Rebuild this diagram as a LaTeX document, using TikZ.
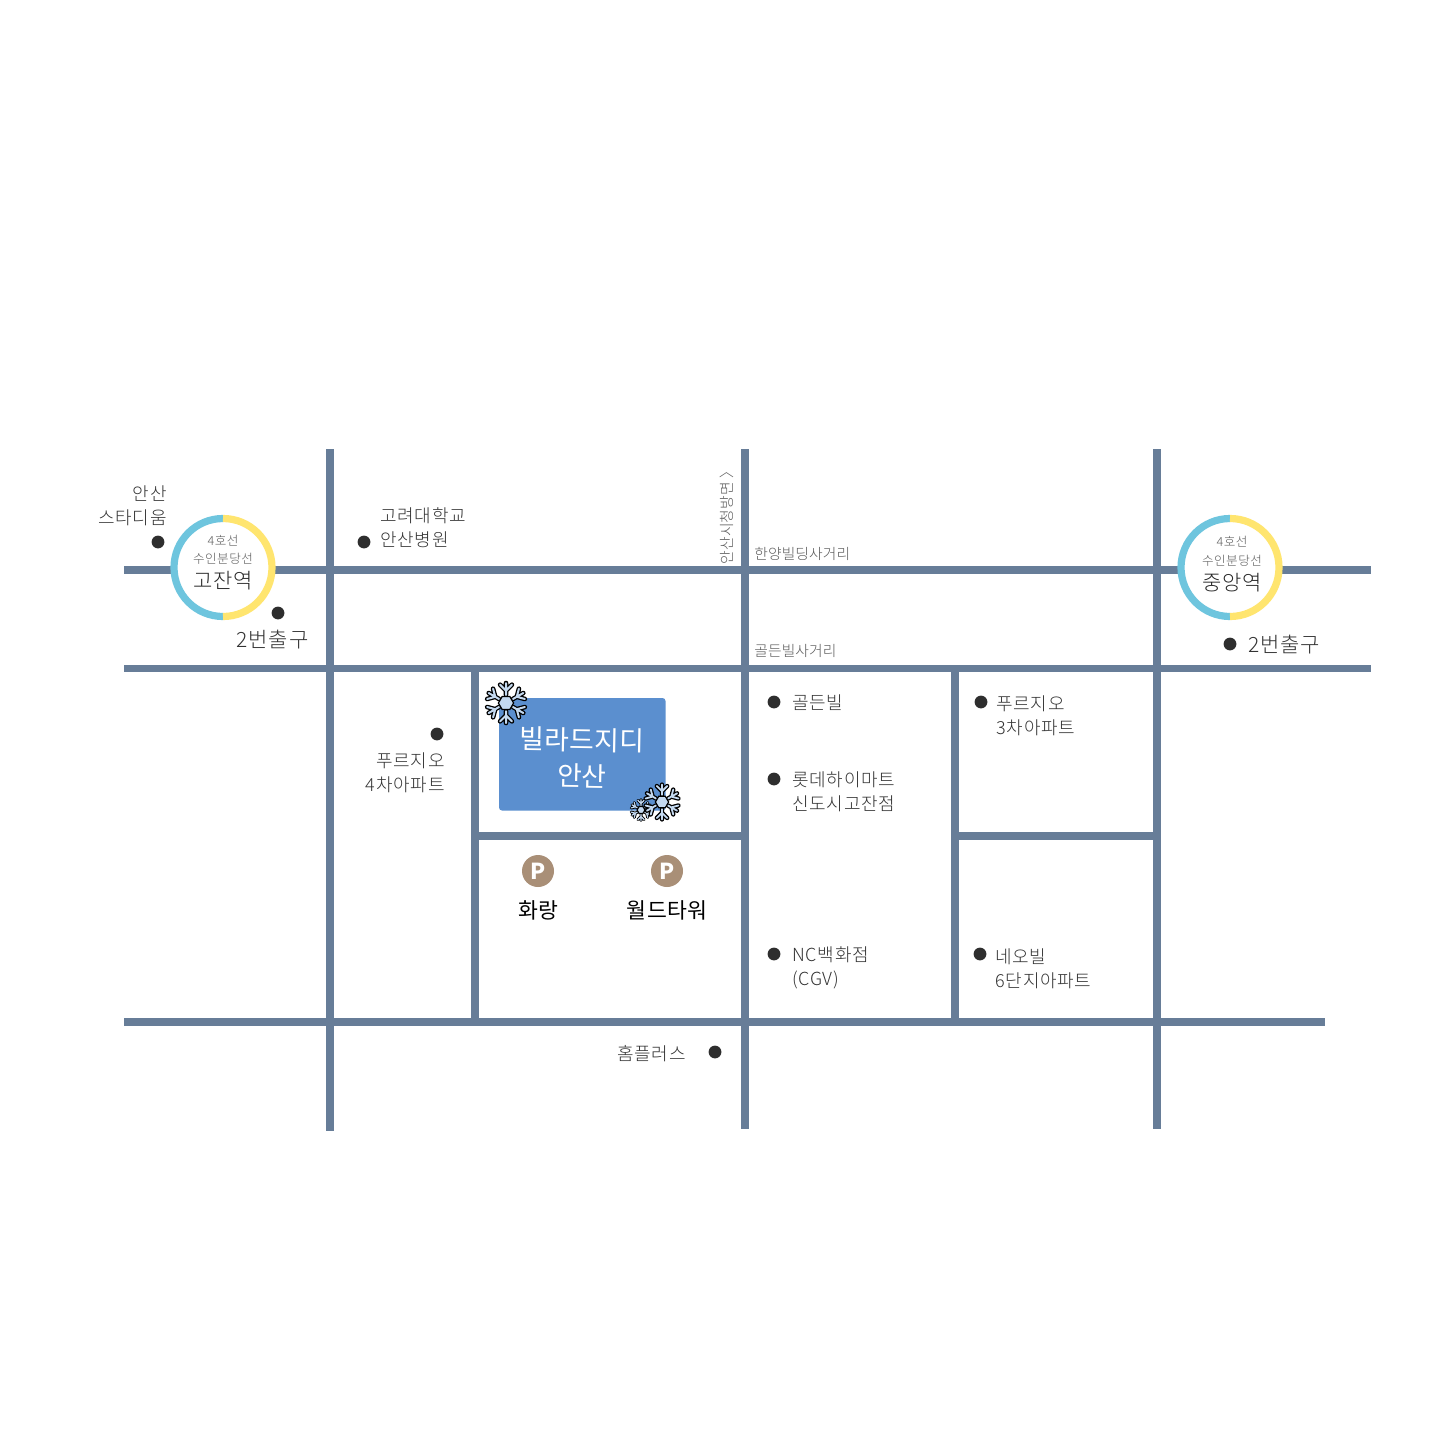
\documentclass[tikz,border=0pt]{standalone}
\usepackage{fontspec}
\newfontfamily\krlight{Noto Sans CJK KR Light}[LetterSpace=4]
\newfontfamily\krsign{Noto Sans CJK KR Light}[LetterSpace=0.5]
\newfontfamily\krreg{Noto Sans CJK KR}[LetterSpace=1]
\definecolor{roadc}{HTML}{677D98}
\definecolor{ringblue}{HTML}{6EC5DE}
\definecolor{ringyellow}{HTML}{FFE56F}
\definecolor{boxblue}{HTML}{5B8FCF}
\definecolor{parkc}{HTML}{A98F77}
\definecolor{dotc}{HTML}{2E2E2E}
\definecolor{inkc}{HTML}{333333}
\definecolor{greyc}{HTML}{5A5A5A}
\definecolor{iceblue}{HTML}{C4D9F0}
\tikzset{
  road/.style={draw=roadc,line width=3.6pt},
  place/.style={circle,fill=dotc,minimum size=6.4pt,inner sep=0pt},
  lbl/.style={font=\krlight\fontsize{9}{9}\selectfont,text=inkc,inner sep=0pt,text height=7pt,text depth=0pt},
  sign/.style={font=\krsign\fontsize{7.4}{8}\selectfont,text=greyc,inner sep=0pt,text height=6pt,text depth=0pt},
  tiny/.style={font=\krlight\fontsize{6.3}{7}\selectfont,text=greyc,inner sep=0pt,text height=5pt,text depth=0pt},
  station/.style={font=\krlight\fontsize{10.5}{11}\selectfont,text=black!85,inner sep=0pt,text height=8pt,text depth=0pt},
  exitlbl/.style={font=\krlight\fontsize{10.5}{11}\selectfont,text=inkc,inner sep=0pt,text height=8pt,text depth=0pt},
  park/.style={circle,fill=parkc,minimum size=16pt,inner sep=0pt,text=white,font=\krreg\bfseries\fontsize{11}{11}\selectfont},
  parklbl/.style={font=\krreg\fontsize{10.8}{11}\selectfont,text=black,inner sep=0pt,text height=8pt,text depth=0pt},
  brand/.style={font=\krreg\fontsize{13.4}{14}\selectfont,text=white,inner sep=0pt,rotate=-1},
}
\newcommand{\flakearm}[1]{%
  \foreach \a in {30,90,...,330}{
    \begin{scope}[rotate=\a]
      \draw[line cap=round,#1] (.4,0) -- (1,0) (.62,0) -- ++(45:.42) (.62,0) -- ++(-45:.42);
    \end{scope}}}
\newcommand{\snowflake}[5]{%
  \begin{scope}[shift={(#1,#2)},x=#3*1pt,y=#3*1pt]
    \flakearm{draw=black,line width=#4}
    \flakearm{draw=iceblue,line width=#5}
    \draw[black,fill=iceblue,line width=.6pt] (0:.38) -- (60:.38) -- (120:.38) -- (180:.38) -- (240:.38) -- (300:.38) -- cycle;
  \end{scope}}
\newcommand{\ring}[2]{%
  \fill[white] (#1,#2) circle (52);
  \draw[ringblue,line width=3.6pt] (#1,#2-49) arc[start angle=-90,end angle=-270,radius=49];
  \draw[ringyellow,line width=3.6pt] (#1,#2-49) arc[start angle=-90,end angle=90,radius=49];}
\begin{document}
\begin{tikzpicture}[x=0.5pt,y=-0.5pt]
\useasboundingbox (0,0) rectangle (1440,1440);
\fill[white] (0,0) rectangle (1440,1440);
% roads
\draw[road] (124,570) -- (1371,570);
\draw[road] (124,668.5) -- (1371,668.5);
\draw[road] (124,1022) -- (1325,1022);
\draw[road] (475,836) -- (745,836);
\draw[road] (955,836) -- (1157,836);
\draw[road] (330,449) -- (330,1131);
\draw[road] (745,449) -- (745,1129);
\draw[road] (1157,449) -- (1157,1129);
\draw[road] (475,668) -- (475,1022);
\draw[road] (955,668) -- (955,1022);
% stations
\ring{223}{567.5}
\ring{1230}{567.5}
\node[tiny] (g1) at (223,540) {4호선};
\node[tiny] (g2) at (223,558) {수인분당선};
\node[station] (g3) at (223,580.5) {고잔역};
\node[tiny] (j1) at (1232,541) {4호선};
\node[tiny] (j2) at (1232,560) {수인분당선};
\node[station] (j3) at (1232,582.5) {중앙역};
% dots
\node[place] (d1) at (158,542) {};
\node[place] (d2) at (278,613) {};
\node[place] (d3) at (364,542) {};
\node[place] (d4) at (437,734) {};
\node[place] (d5) at (774,702) {};
\node[place] (d6) at (774,779) {};
\node[place] (d7) at (774,954) {};
\node[place] (d8) at (981,702) {};
\node[place] (d9) at (980,954) {};
\node[place] (d10) at (715,1052) {};
\node[place] (d11) at (1230,644) {};
% labels
\node[lbl,anchor=east] (t1) at (167,493.5) {안산};
\node[lbl,anchor=east] (t2) at (167,517.5) {스타디움};
\node[exitlbl] (t3) at (272.5,639.5) {2번출구};
\node[lbl,anchor=west] (t4) at (380,515.5) {고려대학교};
\node[lbl,anchor=west] (t5) at (380,539.5) {안산병원};
\node[lbl,anchor=east] (t6) at (445,760.5) {푸르지오};
\node[lbl,anchor=east] (t7) at (445,784.5) {4차아파트};
\node[sign,anchor=west] (t8) at (754,553) {한양빌딩사거리};
\node[sign,anchor=west] (t9) at (754,650) {골든빌사거리};
\node[sign,rotate=90] (t10) at (726,514) {안산시청방면 〉};
\node[lbl,anchor=west] (t11) at (792,702) {골든빌};
\node[lbl,anchor=west] (t12) at (792,779.5) {롯데하이마트};
\node[lbl,anchor=west] (t13) at (792,803.5) {신도시고잔점};
\node[lbl,anchor=west] (t14) at (792,954) {NC백화점};
\node[lbl,anchor=west] (t15) at (792,978) {(CGV)};
\node[lbl,anchor=west] (t16) at (996,703) {푸르지오};
\node[lbl,anchor=west] (t17) at (996,727) {3차아파트};
\node[lbl,anchor=west] (t18) at (995,956) {네오빌};
\node[lbl,anchor=west] (t19) at (995,980) {6단지아파트};
\node[lbl,anchor=east] (t20) at (686,1053) {홈플러스};
\node[exitlbl,anchor=west] (t21) at (1248,644) {2번출구};
% building
\fill[boxblue,rounded corners=1.5pt] (499,698) rectangle (665.5,810.5);
\node[brand] (b1) at (582,740) {빌라드지디};
\node[brand] (b2) at (582,776) {안산};
\snowflake{506}{703}{10}{2.3pt}{1pt}
\snowflake{641}{810}{5.2}{1.5pt}{.6pt}
\snowflake{662}{802}{8.7}{2.2pt}{.9pt}
% parking
\node[park] (p1) at (538,871) {P};
\node[park] (p2) at (667,871) {P};
\node[parklbl] (p3) at (538,910.5) {화랑};
\node[parklbl] (p4) at (667,910.5) {월드타워};
\end{tikzpicture}
\end{document}
